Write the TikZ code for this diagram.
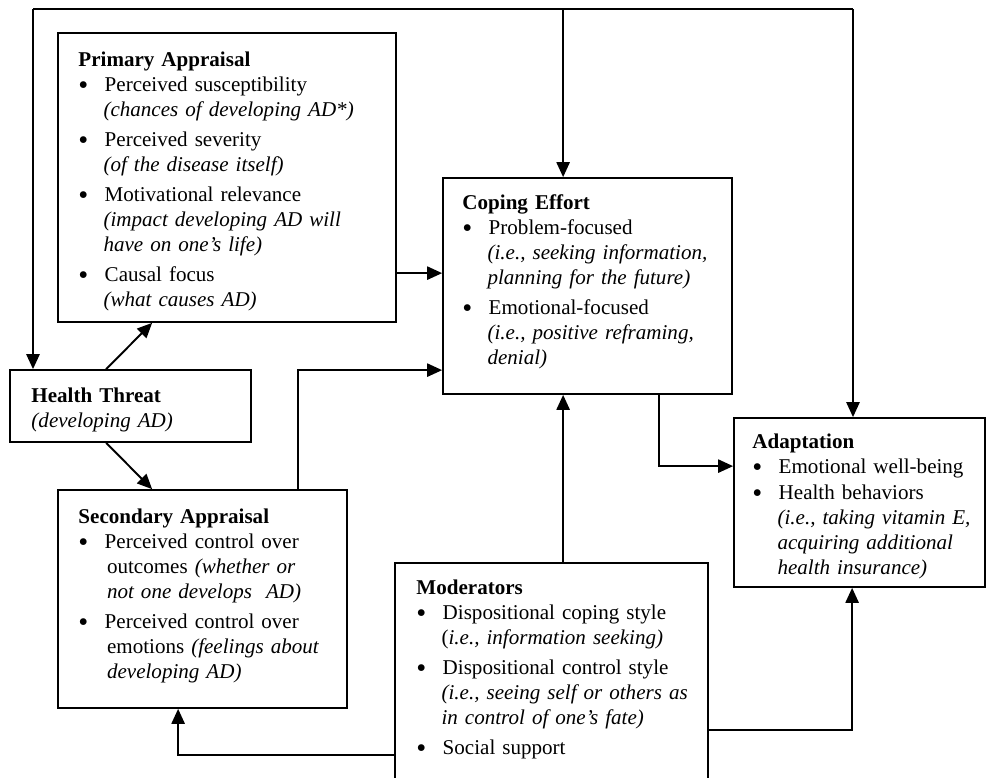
\documentclass[tikz,border=0pt]{standalone}
\usepackage{fontspec}
\setmainfont{Liberation Serif}
\usepackage{graphicx}
\usepackage{enumitem}
\usepackage{tikz}
\usetikzlibrary{arrows.meta,positioning,fit,calc}
\setlist[itemize]{label=\raisebox{-1.7pt}{\scalebox{1.35}{\textbullet}}, leftmargin=14.3pt, labelwidth=5pt, labelsep=9.3pt, align=left, labelindent=0pt, topsep=0pt, partopsep=0pt, parsep=0pt, itemsep=2.9pt}

\begin{document}
\begin{tikzpicture}[
    x=0.57pt, y=-0.57pt,
    box/.style={rectangle, draw, line width=1pt, inner sep=0pt},
    txt/.style={anchor=north west, inner sep=0pt, align=left, font=\fontsize{12}{14.25}\selectfont},
    arrow/.style={line width=1.1pt, -{Triangle[length=8.5pt,width=7.5pt]}}
]
\useasboundingbox (0,0) rectangle (987,778);
\clip (0,0) rectangle (987,778);

% Boxes
\node[box, fit={(58,33) (396,322)}] (primary) {};
\node[box, fit={(10,370) (251,442)}] (health) {};
\node[box, fit={(58,490) (347,708)}] (secondary) {};
\node[box, fit={(443,178) (732,394)}] (coping) {};
\node[box, fit={(734,418) (985,587)}] (adapt) {};
\node[box, fit={(395,563) (708,820)}] (moderators) {};

% Box texts
\node[txt, text width=300pt*0.57] (primarytext) at ($(primary.north west)+(21,19)$) {%
\textbf{Primary Appraisal}
\begin{itemize}
\item Perceived susceptibility\\ \textit{(chances of developing AD*)}
\item Perceived severity\\ \textit{(of the disease itself)}
\item Motivational relevance\\ \textit{(impact developing AD will\\ have on one's life)}
\item Causal focus\\ \textit{(what causes AD)}
\end{itemize}};

\node[txt, text width=210pt*0.57] (healthtext) at ($(health.north west)+(22,18)$) {%
\textbf{Health Threat}\\ \textit{(developing AD)}};

\node[txt, text width=260pt*0.57] (secondarytext) at ($(secondary.north west)+(21,19)$) {%
\textbf{Secondary Appraisal}
\begin{itemize}
\item Perceived control over\\ \hspace{2pt}outcomes \textit{(whether or\\ \hspace{2pt}not one develops\ \ AD)}
\item Perceived control over\\ \hspace{2pt}emotions \textit{(feelings about\\ \hspace{2pt}developing AD)}
\end{itemize}};

\node[txt, text width=260pt*0.57] (copingtext) at ($(coping.north west)+(20,17)$) {%
\textbf{Coping Effort}
\begin{itemize}
\item Problem-focused\\ \textit{(i.e., seeking information,\\ planning for the future)}
\item Emotional-focused\\ \textit{(i.e., positive reframing,\\ denial)}
\end{itemize}};

\node[txt, text width=230pt*0.57] (adapttext) at ($(adapt.north west)+(19,16)$) {%
\textbf{Adaptation}
\begin{itemize}[itemsep=1pt]
\item Emotional well-being
\item Health behaviors\\ \textit{(i.e., taking vitamin E,\\ acquiring additional\\ health insurance)}
\end{itemize}};

\node[txt, text width=290pt*0.57] (moderatorstext) at ($(moderators.north west)+(22,17)$) {%
\textbf{Moderators}
\begin{itemize}
\item Dispositional coping style\\ ({\itshape i.e., information seeking)}
\item Dispositional control style\\ \textit{(i.e., seeing self or others as\\ in control of one's fate)}
\item Social support
\end{itemize}};

% Feedback line along the top
\coordinate (loopl) at (33,9);
\coordinate (loopr) at (853,9);
\coordinate (copx) at ($(coping.north west)+(121,0)$);
\draw[line width=1.1pt] (loopl) -- (loopr);
\draw[arrow] (loopl) -- (loopl |- health.north);
\draw[arrow] (copx |- loopl) -- (copx);
\draw[arrow] (loopr) -- (loopr |- adapt.north);

% Connections
\draw[arrow] ($(health.north west)+(97,0)$) -- ($(primary.south west)+(95,0)$);
\draw[arrow] ($(health.south west)+(97,0)$) -- ($(secondary.north west)+(95,0)$);
\draw[arrow] ($(primary.north east)+(0,241)$) coordinate (pc) -- (pc -| coping.west);
\draw[arrow] ($(secondary.north west)+(241,0)$) |- ($(coping.north west)+(0,193)$);
\draw[arrow] ($(coping.south west)+(217,0)$) |- ($(adapt.north west)+(0,49)$);
\draw[arrow] (copx |- moderators.north) -- (copx |- coping.south);
\draw[arrow] ($(moderators.north east)+(0,168)$) -| ($(adapt.south west)+(119,0)$);
\draw[arrow] ($(moderators.north west)+(0,193)$) -| ($(secondary.south west)+(121,0)$);

\end{tikzpicture}
\end{document}
